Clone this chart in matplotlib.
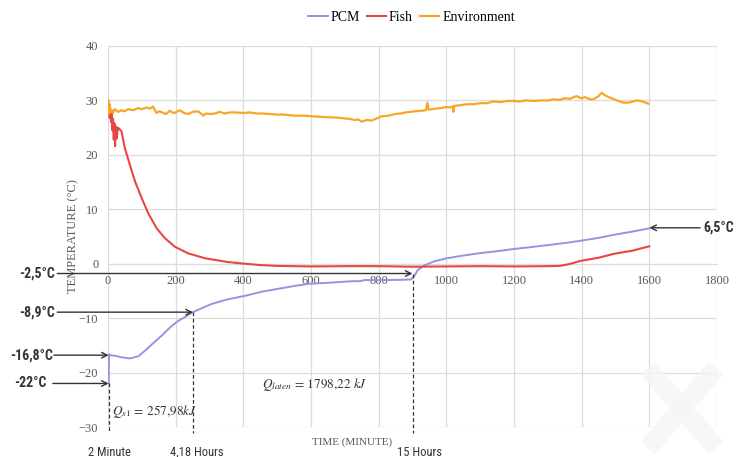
import matplotlib
matplotlib.use('Agg')
import matplotlib.pyplot as plt
from matplotlib.lines import Line2D

# ---- data ----
time_pcm = [2, 3, 5, 20, 40, 65, 90, 109, 130, 159, 185, 208, 230, 251, 280, 306,
            350, 405, 450, 504, 550, 592, 651, 700, 730, 745, 760, 800, 829, 870,
            895, 905, 915, 932, 962, 1001, 1050, 1100, 1150, 1198, 1250, 1297,
            1350, 1395, 1450, 1494, 1550, 1600]
temp_pcm = [-22.0, -16.6, -16.8, -16.9, -17.2, -17.4, -17.0, -16.0, -14.8, -13.2,
            -11.6, -10.5, -9.7, -8.9, -8.1, -7.4, -6.6, -5.9, -5.2, -4.6, -4.1,
            -3.7, -3.5, -3.3, -3.2, -3.2, -3.0, -3.0, -3.0, -2.95, -2.9, -2.3,
            -1.2, -0.4, 0.4, 1.0, 1.5, 1.95, 2.3, 2.7, 3.05, 3.4, 3.8, 4.2, 4.75,
            5.3, 5.9, 6.5]

time_fish = [3, 5, 7, 9, 11, 13, 15, 17, 19, 21, 23, 26, 29, 33, 40, 50, 65, 80,
             100, 119, 144, 168, 198, 237, 287, 316, 355, 405, 450, 500, 600,
             700, 800, 900, 1000, 1100, 1200, 1300, 1336, 1365, 1395, 1450, 1494,
             1550, 1600]
temp_fish = [28.2, 26.8, 27.9, 26.0, 27.6, 24.5, 26.6, 22.8, 25.8, 21.6, 25.2,
             23.0, 25.0, 24.8, 24.3, 21.2, 18.1, 15.1, 12.0, 9.25, 6.5, 4.7, 3.1,
             1.9, 1.0, 0.7, 0.3, 0.0, -0.25, -0.4, -0.5, -0.45, -0.45, -0.55,
             -0.5, -0.45, -0.5, -0.45, -0.4, -0.05, 0.5, 1.1, 1.8, 2.4, 3.2]

time_env = [0, 1, 3, 5, 7, 10, 15, 20, 30, 40, 47, 60, 75, 89, 100, 115, 125,
            133, 143, 152, 160, 172, 182, 190, 197, 212, 225, 237, 250, 266, 275,
            281, 290, 300, 316, 330, 345, 360, 375, 400, 420, 440, 454, 480, 500,
            520, 553, 580, 600, 625, 651, 675, 700, 715, 730, 740, 750, 765, 779,
            795, 809, 830, 848, 865, 880, 895, 907, 925, 940, 944, 948, 960, 970,
            985, 1001, 1010, 1019, 1021, 1023, 1040, 1060, 1080, 1100, 1120,
            1139, 1160, 1180, 1198, 1215, 1235, 1257, 1280, 1300, 1316, 1335,
            1350, 1365, 1385, 1398, 1410, 1425, 1435, 1450, 1459, 1470, 1484,
            1500, 1523, 1540, 1563, 1580, 1597]
temp_env = [29.0, 30.0, 27.6, 29.3, 27.8, 28.3, 27.7, 28.4, 27.9, 28.2, 28.0,
            28.4, 28.2, 28.6, 28.4, 28.7, 28.5, 28.9, 27.7, 28.0, 27.8, 27.5,
            28.1, 27.8, 27.7, 28.2, 27.7, 27.5, 27.9, 28.0, 27.6, 27.2, 27.6,
            27.5, 27.6, 27.9, 27.6, 27.8, 27.8, 27.7, 27.8, 27.6, 27.6, 27.5,
            27.4, 27.4, 27.2, 27.2, 27.1, 27.0, 26.9, 26.85, 26.7, 26.6, 26.4,
            26.5, 26.1, 26.4, 26.3, 26.7, 27.1, 27.2, 27.5, 27.6, 27.8, 27.9,
            28.0, 28.1, 28.2, 29.6, 28.3, 28.4, 28.5, 28.6, 28.8, 28.7, 28.9,
            27.9, 29.0, 29.1, 29.3, 29.3, 29.5, 29.5, 29.8, 29.7, 29.9, 29.9,
            29.8, 30.0, 29.9, 30.0, 30.0, 30.2, 30.1, 30.4, 30.3, 30.8, 30.4,
            30.6, 30.2, 30.2, 30.8, 31.4, 30.9, 30.5, 30.1, 29.6, 29.6, 30.0,
            29.8, 29.4]

x_ticks = [0, 200, 400, 600, 800, 1000, 1200, 1400, 1600, 1800]
y_ticks = [-30, -20, -10, 0, 10, 20, 30, 40]

plt.rcParams['font.family'] = 'serif'
plt.rcParams['font.serif'] = ['Liberation Serif', 'DejaVu Serif']
plt.rcParams['mathtext.fontset'] = 'stix'
cond = ['Roboto Condensed', 'Roboto', 'DejaVu Sans']

fig = plt.figure(figsize=(7.42, 4.57), dpi=100)
ax = fig.add_axes([108 / 742, 1 - 427 / 457, 609 / 742, 381 / 457])

ax.plot(time_pcm, temp_pcm, color='#9494E0', lw=1.4, label='PCM', zorder=3)
ax.plot(time_fish, temp_fish, color='#E84646', lw=1.5, label='Fish', zorder=3)
ax.plot(time_env, temp_env, color='#F7A628', lw=1.6, label='Environment', zorder=3)

ax.set_xlim(0, 1800)
ax.set_ylim(-30, 40)
ax.set_xticks(x_ticks)
ax.set_yticks(y_ticks)
ax.grid(True, color='#DCDCDC', lw=0.9)
ax.set_axisbelow(True)
for side in ['top', 'right', 'left']:
    ax.spines[side].set_visible(False)
ax.spines['bottom'].set_position(('data', 0))
ax.spines['bottom'].set_color('#DCDCDC')
ax.tick_params(axis='both', length=0, labelsize=9, labelcolor='#595959')
ax.tick_params(axis='x', pad=8)
ax.tick_params(axis='y', pad=7)

ax.text(-0.0575, 0.5, 'TEMPERATURE (°C)', transform=ax.transAxes, rotation=90,
        ha='center', va='center', fontsize=9, color='#595959')
ax.text(721, -32.7, 'TIME (MINUTE)', ha='center', va='center', fontsize=8,
        color='#595959', clip_on=False)

fig.legend(loc='center', bbox_to_anchor=(0.5545, 0.961), ncol=3, frameon=False,
           fontsize=10, handlelength=1.4, handletextpad=0.2, columnspacing=0.5)

# ---- annotations ----
arrow_kw = dict(arrowstyle='->', color='#333333', lw=1.0, shrinkA=0, shrinkB=0)
left_notes = [('-2,5°C', -1.8, -156, -150, 900),
              ('-8,9°C', -8.9, -156, -150, 251),
              ('-16,8°C', -16.8, -162, -160, 2),
              ('-22°C', -22.0, -183, -163, 2)]
for label, yv, xt, xs, xe in left_notes:
    ax.annotate('', xy=(xe, yv), xytext=(xs, yv), arrowprops=arrow_kw,
                annotation_clip=False)
    ax.text(xt, yv, label, ha='right', va='center', fontsize=10,
            fontweight='bold', family=cond, color='#333333', clip_on=False)

ax.annotate('', xy=(1600, 6.6), xytext=(1750, 6.6), arrowprops=arrow_kw,
            annotation_clip=False)
ax.text(1759, 6.6, '6,5°C', ha='left', va='center', fontsize=10,
        fontweight='bold', family=cond, color='#333333', clip_on=False)

for xv, ytop in [(2, -22.0), (251, -8.9), (900, -1.8)]:
    ax.plot([xv, xv], [ytop, -31.1], ls=(0, (3, 2)), color='#333333', lw=0.9,
            clip_on=False, zorder=4)
ax.text(5, -34.6, '2 Minute', ha='center', va='center', fontsize=9,
        family=cond, color='#333333', clip_on=False)
ax.text(262, -34.6, '4,18 Hours', ha='center', va='center', fontsize=9,
        family=cond, color='#333333', clip_on=False)
ax.text(922, -34.6, '15 Hours', ha='center', va='center', fontsize=9,
        family=cond, color='#333333', clip_on=False)

ax.text(12, -27.1, r'$Q_{s1}\,=\,257{,}98kJ$', ha='left', va='center',
        fontsize=9.5, color='#333333')
ax.text(455, -22.1, r'$Q_{laten}\,=\,1798{,}22\ kJ$', ha='left', va='center',
        fontsize=9.5, color='#333333')

# faint watermark cross in the lower right corner
for (x0, y0), (x1, y1) in [((648, 368), (716, 448)), ((716, 368), (648, 448))]:
    fig.add_artist(Line2D([x0 / 742, x1 / 742], [1 - y0 / 457, 1 - y1 / 457],
                          transform=fig.transFigure, color='#F5F5F5', alpha=0.8,
                          lw=14, solid_capstyle='butt', zorder=10))

fig.savefig('out.png', dpi=100)
